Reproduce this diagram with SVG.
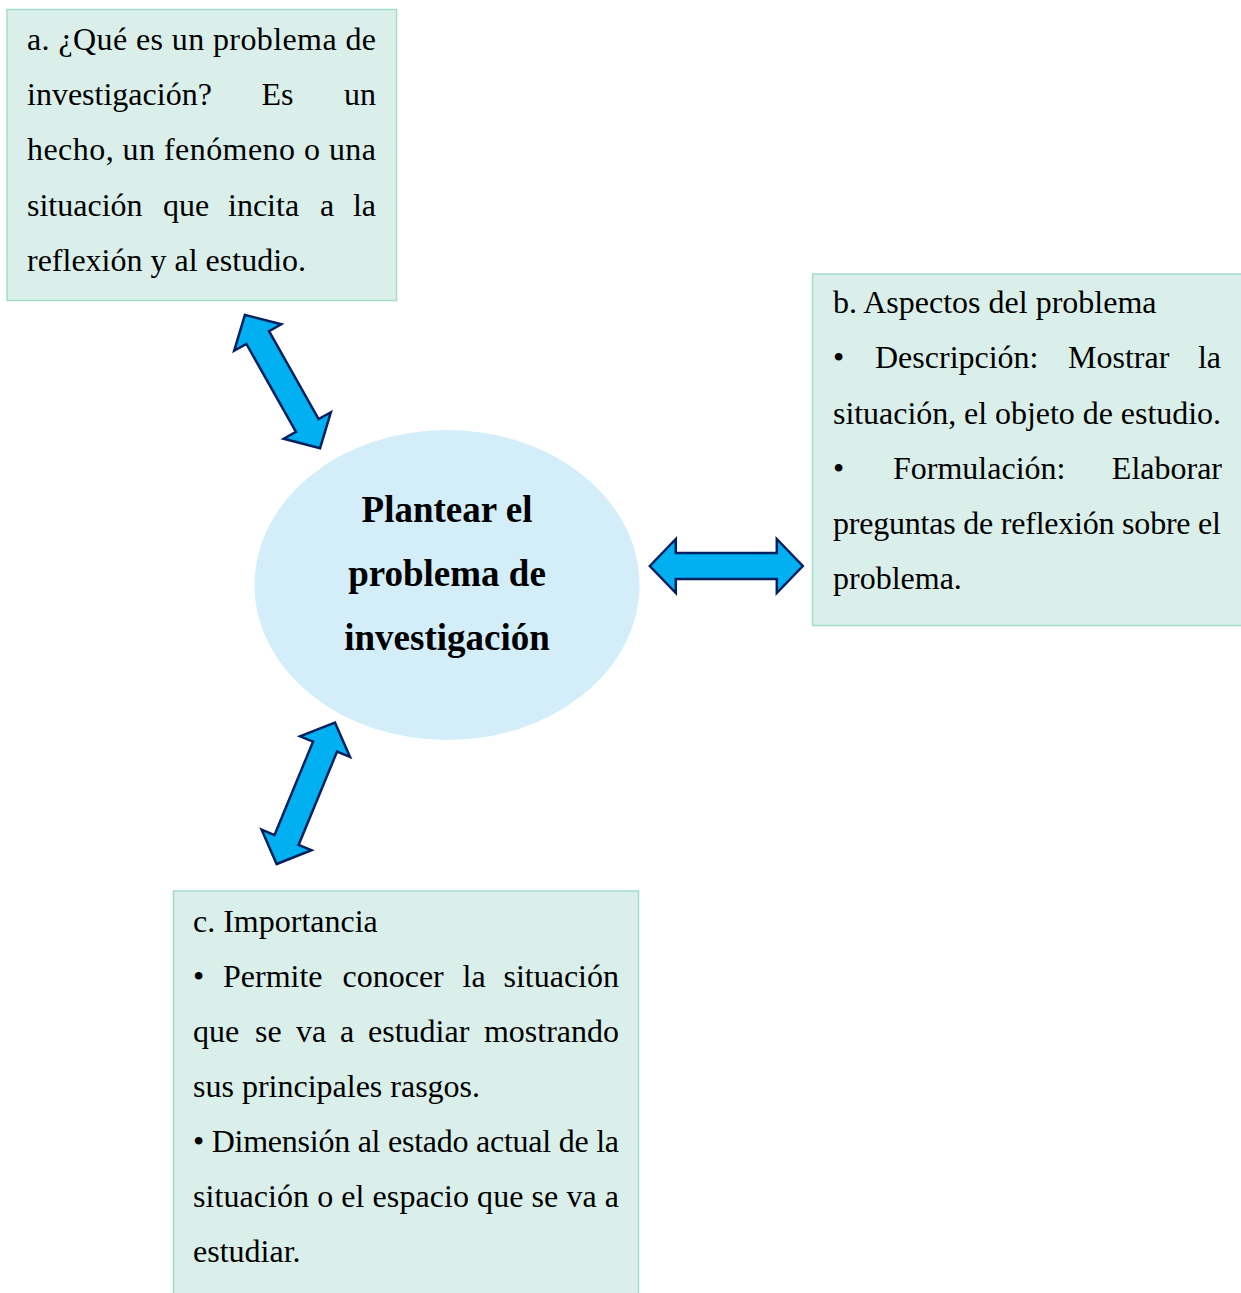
<svg xmlns="http://www.w3.org/2000/svg" width="1241" height="1293" viewBox="0 0 1241 1293">
<style>
.box{fill:#DAEFEA;stroke:#A3DCCB;stroke-width:1.5}
.t{font-family:"Liberation Serif","Times New Roman",serif;font-size:32px;fill:#000}
.e{text-anchor:end}
.c{font-family:"Liberation Serif","Times New Roman",serif;font-size:37px;font-weight:bold;text-anchor:middle;fill:#000}
.arr{fill:#00B0F0;stroke:#002060;stroke-width:2.5;stroke-linejoin:miter}
</style>
<defs>
<path id="dbl" d="M -76.5 0 L -50.5 -27 L -50.5 -13 L 50.5 -13 L 50.5 -27 L 76.5 0 L 50.5 27 L 50.5 13 L -50.5 13 L -50.5 27 Z"/>
</defs>
<rect width="1241" height="1293" fill="#fff"/>

<g id="connectors">
<use href="#dbl" class="arr" transform="translate(282.5,381.5) rotate(60.6)"/>
<use href="#dbl" class="arr" transform="translate(726.3,566)"/>
<use href="#dbl" class="arr" transform="translate(305.8,793.3) rotate(112.4)"/>
</g>

<g id="center">
<ellipse cx="447" cy="585" rx="192.5" ry="155" fill="#D3EEF9"/>
<text class="c" x="447" y="522">Plantear el</text>
<text class="c" x="447" y="586">problema de</text>
<text class="c" x="447" y="650">investigación</text>
</g>

<g id="box-a">
<rect class="box" x="7" y="9.5" width="389.5" height="291"/>
<text class="t" x="27" y="50" textLength="349" lengthAdjust="spacing">a. ¿Qué es un problema de</text>
<text class="t" x="27" y="105">investigación?</text>
<text class="t" x="261.5" y="105">Es</text>
<text class="t e" x="376" y="105">un</text>
<text class="t" x="27" y="160" textLength="349" lengthAdjust="spacing">hecho, un fenómeno o una</text>
<text class="t" x="27" y="216">situación</text>
<text class="t" x="163" y="216">que</text>
<text class="t" x="228" y="216">incita</text>
<text class="t" x="320" y="216">a</text>
<text class="t e" x="376" y="216">la</text>
<text class="t" x="27" y="271">reflexión y al estudio.</text>
</g>

<g id="box-b">
<rect class="box" x="812.5" y="274" width="440" height="351.5"/>
<text class="t" x="833" y="313">b. Aspectos del problema</text>
<text class="t" x="833" y="368">•</text>
<text class="t" x="875" y="368">Descripción:</text>
<text class="t" x="1068" y="368">Mostrar</text>
<text class="t e" x="1221" y="368">la</text>
<text class="t" x="833" y="424" textLength="388" lengthAdjust="spacing">situación, el objeto de estudio.</text>
<text class="t" x="833" y="479">•</text>
<text class="t" x="893" y="479">Formulación:</text>
<text class="t e" x="1222" y="479">Elaborar</text>
<text class="t" x="833" y="534" textLength="388" lengthAdjust="spacing">preguntas de reflexión sobre el</text>
<text class="t" x="833" y="589">problema.</text>
</g>

<g id="box-c">
<rect class="box" x="173.5" y="891" width="465" height="410"/>
<text class="t" x="193" y="932">c. Importancia</text>
<text class="t" x="193" y="987">•</text>
<text class="t" x="223" y="987">Permite</text>
<text class="t" x="342.5" y="987">conocer</text>
<text class="t" x="462.5" y="987">la</text>
<text class="t e" x="619" y="987">situación</text>
<text class="t" x="193" y="1042">que</text>
<text class="t" x="255" y="1042">se</text>
<text class="t" x="296" y="1042">va</text>
<text class="t" x="340" y="1042">a</text>
<text class="t" x="368" y="1042">estudiar</text>
<text class="t e" x="619" y="1042">mostrando</text>
<text class="t" x="193" y="1097">sus principales rasgos.</text>
<text class="t" x="193" y="1152" textLength="426" lengthAdjust="spacing">• Dimensión al estado actual de la</text>
<text class="t" x="193" y="1207" textLength="426" lengthAdjust="spacing">situación o el espacio que se va a</text>
<text class="t" x="193" y="1262">estudiar.</text>
</g>
</svg>
